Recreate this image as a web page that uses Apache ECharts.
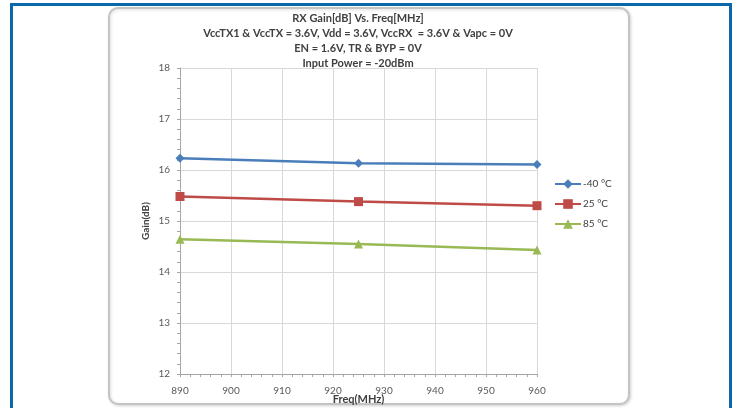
<!DOCTYPE html>
<html>
<head>
<meta charset="utf-8">
<script src="https://cdn.jsdelivr.net/npm/echarts@6/dist/echarts.min.js"></script>
<style>
html,body{margin:0;padding:0;background:#fff;}
#c{width:739px;height:408px;}
</style>
</head>
<body>
<div id="c"></div>
<script>
const freqs = [890, 925, 960];
const seriesNames = ['-40 \u00B0C', '25 \u00B0C', '85 \u00B0C'];
const gainM40 = [16.23, 16.13, 16.11];
const gain25 = [15.48, 15.38, 15.30];
const gain85 = [14.64, 14.55, 14.43];
const titleLines = [
  'RX Gain[dB] Vs. Freq[MHz]',
  'VccTX1 & VccTX = 3.6V, Vdd = 3.6V, VccRX  = 3.6V & Vapc = 0V',
  'EN = 1.6V, TR & BYP = 0V',
  'Input Power = -20dBm'
];

const pair = (ys) => freqs.map((f, i) => [f, ys[i]]);
const font = 'Lato, "Open Sans", sans-serif';

const chart = echarts.init(document.getElementById('c'), null, {renderer: 'canvas'});
chart.setOption({
  backgroundColor: '#ffffff',
  animation: false,
  textStyle: {fontFamily: font},
  graphic: [
    {type: 'rect', z: -10, silent: true,
     shape: {x: 11.5, y: 4.5, width: 719, height: 420},
     style: {fill: 'none', stroke: '#0a67aa', lineWidth: 3}},
    {type: 'rect', z: -9, silent: true,
     shape: {x: 109, y: 8, width: 520, height: 396, r: 9},
     style: {fill: '#ffffff', stroke: '#c4c4c4', lineWidth: 2,
             shadowColor: 'rgba(0,0,0,0.15)', shadowBlur: 3, shadowOffsetX: 1, shadowOffsetY: 1}}
  ],
  title: {
    text: titleLines.join('\n'),
    left: 353, top: 6, textAlign: 'center',
    textStyle: {fontSize: 11, fontWeight: 'bold', color: '#404040', lineHeight: 15, fontFamily: font}
  },
  legend: {
    orient: 'vertical', left: 549, top: 174, itemGap: 10,
    itemWidth: 26, itemHeight: 12,
    textStyle: {fontSize: 10, color: '#404040', fontFamily: font, padding: [0, 0, 0, -3]},
    data: seriesNames
  },
  grid: {left: 180, right: 202, top: 68, bottom: 34, outerBoundsMode: 'none', containLabel: false},
  xAxis: {
    type: 'value', min: 890, max: 960, interval: 10,
    name: 'Freq(MHz)', nameLocation: 'middle', nameGap: 20, nameMoveOverlap: false,
    nameTextStyle: {fontSize: 11, fontWeight: 'bold', color: '#404040'},
    axisLine: {lineStyle: {color: '#a6a6a6'}},
    axisTick: {show: true, length: 3, lineStyle: {color: '#a6a6a6'}},
    minorTick: {show: true, splitNumber: 5, length: 3, lineStyle: {color: '#a6a6a6'}},
    axisLabel: {fontSize: 10, color: '#595959', margin: 12},
    splitLine: {show: true, lineStyle: {color: '#d9d9d9', width: 1}}
  },
  yAxis: {
    type: 'value', min: 12, max: 18, interval: 1,
    name: 'Gain(dB)', nameLocation: 'middle', nameGap: 29, nameMoveOverlap: false,
    nameTextStyle: {fontSize: 10, fontWeight: 'bold', color: '#404040'},
    axisLine: {show: true, lineStyle: {color: '#a6a6a6'}},
    axisTick: {show: true, length: 3, lineStyle: {color: '#a6a6a6'}},
    minorTick: {show: true, splitNumber: 5, length: 3, lineStyle: {color: '#a6a6a6'}},
    axisLabel: {fontSize: 10, color: '#595959', margin: 10},
    splitLine: {show: true, lineStyle: {color: '#d9d9d9', width: 1}}
  },
  series: [
    {name: seriesNames[0], type: 'line', data: pair(gainM40), symbol: 'diamond', symbolSize: 9,
     itemStyle: {color: '#4a7ebb'}, lineStyle: {width: 2.5, color: '#4a7ebb'}},
    {name: seriesNames[1], type: 'line', data: pair(gain25), symbol: 'rect', symbolSize: 9,
     itemStyle: {color: '#be4b48'}, lineStyle: {width: 2.5, color: '#be4b48'}},
    {name: seriesNames[2], type: 'line', data: pair(gain85), symbol: 'triangle', symbolSize: 9,
     itemStyle: {color: '#98b954'}, lineStyle: {width: 2.5, color: '#98b954'}}
  ]
});
</script>
</body>
</html>
